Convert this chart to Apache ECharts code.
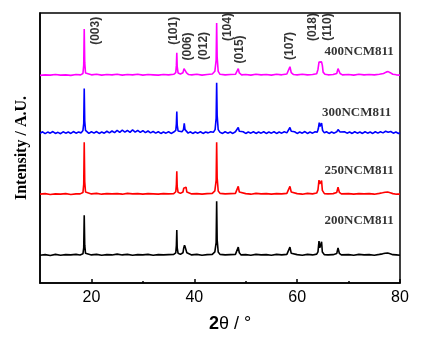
<!DOCTYPE html>
<html>
<head>
<meta charset="utf-8">
<script src="https://cdn.jsdelivr.net/npm/echarts@6/dist/echarts.min.js"></script>
<style>
  html, body { margin: 0; padding: 0; background: #fff; }
  #chart { width: 440px; height: 338px; }
</style>
</head>
<body>
<div id="chart"></div>
<script>
// XRD patterns, [2theta, intensity above own baseline]
const pattern200 = [
  [10, 0.3], [11, 0.5], [12, 0.2], [13, 0.6], [14, 0.3], [15, 0.5], [16, 0.4], [17, 0.6], [17.8, 0.4],
  [18.35, 0.8], [18.5, 3], [18.6, 15.1], [18.7, 4], [18.85, 1], [19.2, 0.5],
  [20, 0.4], [21, 0.6], [22, 0.3], [23, 0.5], [24, 0.4], [25, 0.7], [26, 0.4], [27, 0.6], [28, 0.3], [29, 0.5],
  [30, 0.4], [31, 0.6], [32, 0.3], [33, 0.5], [34, 0.4], [35, 0.5], [36, 0.6],
  [36.4, 1.2], [36.52, 4], [36.6, 9.6], [36.68, 3], [36.85, 1],
  [37.3, 0.6], [37.8, 1.2], [37.95, 3], [38.1, 4], [38.25, 3.2], [38.4, 3.4], [38.55, 1.2], [38.9, 0.5],
  [39.5, 0.4], [40.5, 0.6], [41.5, 0.3], [42.5, 0.5], [43.5, 0.6],
  [44.0, 1.5], [44.25, 5], [44.35, 20.3], [44.45, 6], [44.65, 1.5], [45, 0.6],
  [46, 0.4], [47, 0.5], [48, 0.6], [48.35, 1.2], [48.55, 3.3], [48.75, 1.2], [49.1, 0.4],
  [50, 0.5], [51, 0.3], [52, 0.6], [53, 0.4], [54, 0.5], [55, 0.3], [56, 0.6], [57, 0.4], [58, 0.6],
  [58.35, 1], [58.6, 3.3], [58.85, 1], [59.2, 0.4],
  [60, 0.5], [61, 0.3], [62, 0.6], [63, 0.4], [63.8, 0.7],
  [64.05, 1.5], [64.25, 5.5], [64.4, 3], [64.55, 2.5], [64.75, 5.3], [64.9, 1.5], [65.3, 0.5],
  [66, 0.4], [67, 0.5], [67.7, 0.9], [67.95, 3], [68.2, 1], [68.6, 0.4],
  [70, 0.5], [71, 0.3], [72, 0.6], [73, 0.4], [74, 0.5], [75, 0.3], [76, 0.6],
  [76.6, 0.8], [77.1, 1], [77.6, 1.1], [78.1, 0.8], [78.6, 0.5], [79.3, 0.4], [80, 0.3]
];

const pattern250 = [
  [10, 0.4], [11, 0.6], [12, 0.3], [13, 0.5], [14, 0.4], [15, 0.6], [16, 0.3], [17, 0.5], [17.8, 0.5],
  [18.35, 1], [18.5, 4], [18.6, 19.6], [18.7, 5], [18.85, 1.2], [19.2, 0.6],
  [20, 0.5], [21, 0.7], [22, 0.4], [23, 0.6], [24, 0.5], [25, 0.6], [26, 0.4], [27, 0.7], [28, 0.5], [29, 0.6],
  [30, 0.4], [31, 0.6], [32, 0.5], [33, 0.4], [34, 0.6], [35, 0.5], [36, 0.6],
  [36.4, 1.3], [36.52, 4], [36.6, 8.9], [36.68, 3.2], [36.85, 1.1],
  [37.3, 0.7], [37.8, 1.2], [37.95, 2.6], [38.1, 3.3], [38.25, 2.8], [38.4, 3], [38.55, 1.2], [38.9, 0.5],
  [39.5, 0.5], [40.5, 0.6], [41.5, 0.4], [42.5, 0.6], [43.5, 0.7],
  [44.0, 1.6], [44.25, 5.5], [44.35, 19.6], [44.45, 6.5], [44.65, 1.6], [45, 0.7],
  [46, 0.5], [47, 0.6], [48, 0.7], [48.35, 1.3], [48.55, 3.3], [48.75, 1.2], [49.1, 0.5],
  [50, 0.6], [51, 0.4], [52, 0.7], [53, 0.5], [54, 0.6], [55, 0.4], [56, 0.6], [57, 0.5], [58, 0.7],
  [58.35, 1.2], [58.6, 3.3], [58.85, 1.2], [59.2, 0.5],
  [60, 0.6], [61, 0.4], [62, 0.7], [63, 0.5], [63.8, 0.8],
  [64.05, 2], [64.25, 5.6], [64.4, 4.2], [64.55, 3.6], [64.75, 5.4], [64.9, 1.8], [65.3, 0.6],
  [66, 0.5], [67, 0.6], [67.7, 1], [67.95, 3], [68.2, 1.1], [68.6, 0.5],
  [70, 0.6], [71, 0.4], [72, 0.6], [73, 0.5], [74, 0.6], [75, 0.4], [76, 0.7],
  [76.6, 0.9], [77.1, 1.1], [77.6, 1.2], [78.1, 0.9], [78.6, 0.6], [79.3, 0.4], [80, 0.4]
];

const pattern300 = [
  [10, 0.4], [10.5, 1], [11, 0.3], [11.5, 0.9], [12, 0.5], [12.5, 1.1], [13, 0.4], [13.5, 0.8], [14, 0.3],
  [14.5, 1], [15, 0.5], [15.5, 0.9], [16, 0.4], [16.5, 1.1], [17, 0.5], [17.5, 0.9], [18, 0.6],
  [18.35, 1.5], [18.5, 4], [18.6, 17], [18.7, 5], [18.85, 1.5], [19.2, 0.8],
  [19.5, 0.4], [20, 1], [20.5, 0.5], [21, 1.1], [21.5, 0.4], [22, 0.9], [22.5, 0.5], [23, 1.2], [23.5, 0.6],
  [24, 1.3], [24.5, 0.7], [25, 1.5], [25.5, 0.8], [26, 1.6], [26.5, 0.9], [27, 1.5], [27.5, 0.8], [28, 1.7],
  [28.5, 0.9], [29, 1.5], [29.5, 0.8], [30, 1.4], [30.5, 0.7], [31, 1.3], [31.5, 0.6], [32, 1.1], [32.5, 0.5],
  [33, 1], [33.5, 0.4], [34, 0.9], [34.5, 0.5], [35, 1], [35.5, 0.4], [36, 0.9],
  [36.4, 1.5], [36.52, 4], [36.6, 8.5], [36.68, 3.5], [36.85, 1.3],
  [37.2, 0.6], [37.6, 1], [37.9, 1.8], [38.05, 4.1], [38.2, 1.8], [38.45, 1.2], [38.8, 0.5],
  [39.2, 1], [39.7, 0.4], [40.2, 0.9], [40.7, 0.5], [41.2, 1], [41.7, 0.4], [42.2, 0.9], [42.7, 0.6], [43.2, 1], [43.7, 0.8],
  [44.05, 1.8], [44.25, 6], [44.35, 19.2], [44.45, 7], [44.65, 1.8], [45, 0.8],
  [45.5, 0.4], [46, 1], [46.5, 0.5], [47, 0.9], [47.5, 0.4], [48, 1],
  [48.35, 1.4], [48.55, 2.6], [48.75, 1.2], [49.1, 0.5],
  [49.5, 1], [50, 0.4], [50.5, 0.9], [51, 0.5], [51.5, 1], [52, 0.4], [52.5, 0.9], [53, 0.5], [53.5, 1],
  [54, 0.4], [54.5, 0.9], [55, 0.5], [55.5, 1], [56, 0.4], [56.5, 0.9], [57, 0.5], [57.5, 1], [58, 0.6],
  [58.35, 1.3], [58.6, 2.6], [58.85, 1.2], [59.2, 0.5],
  [59.5, 1], [60, 0.4], [60.5, 0.9], [61, 0.5], [61.5, 1.1], [62, 0.4], [62.5, 0.9], [63, 0.5], [63.5, 1], [63.9, 0.8],
  [64.1, 2], [64.3, 4.4], [64.45, 3], [64.6, 3.6], [64.75, 4.2], [64.95, 1.5], [65.3, 0.6],
  [65.7, 1], [66.2, 0.4], [66.7, 0.9], [67.2, 0.5], [67.7, 1],
  [67.95, 1.8], [68.1, 1.5], [68.35, 0.9],
  [68.7, 0.4], [69.2, 1], [69.7, 0.5], [70.2, 0.9], [70.7, 0.4], [71.2, 1], [71.7, 0.5], [72.2, 0.9], [72.7, 0.4],
  [73.2, 1], [73.7, 0.5], [74.2, 0.9], [74.7, 0.4], [75.2, 1], [75.7, 0.5], [76.2, 1], [76.7, 0.6], [77.2, 1.2],
  [77.7, 0.8], [78.2, 1.1], [78.7, 0.5], [79.2, 0.9], [79.7, 0.4], [80, 0.7]
];

const pattern400 = [
  [10, 0.3], [11, 0.5], [12, 0.4], [13, 0.6], [14, 0.4], [15, 0.5], [16, 0.3], [17, 0.6], [17.9, 0.5],
  [18.35, 1], [18.5, 4], [18.6, 17.5], [18.7, 5], [18.85, 1.2], [19.2, 0.6],
  [20, 0.5], [21, 0.7], [22, 0.4], [23, 0.6], [24, 0.5], [25, 0.7], [26, 0.4], [27, 0.6], [28, 0.5], [29, 0.7],
  [30, 0.4], [31, 0.6], [32, 0.5], [33, 0.4], [34, 0.6], [35, 0.5], [36, 0.7],
  [36.4, 1.3], [36.52, 4], [36.6, 8.7], [36.68, 3.5], [36.85, 1.2],
  [37.3, 0.8], [37.8, 1.3], [38.0, 2.8], [38.15, 3.5], [38.3, 2.9], [38.5, 1.2], [38.9, 0.6],
  [39.5, 0.5], [40.5, 0.7], [41.5, 0.4], [42.5, 0.6], [43.5, 0.8],
  [44.0, 1.8], [44.25, 6], [44.35, 19.7], [44.45, 7], [44.65, 1.8], [45, 0.7],
  [46, 0.5], [47, 0.6], [48, 0.7], [48.35, 1.3], [48.55, 2.8], [48.75, 1.2], [49.2, 0.5],
  [50, 0.6], [51, 0.4], [52, 0.7], [53, 0.5], [54, 0.6], [55, 0.4], [56, 0.7], [57, 0.5], [58, 0.8],
  [58.35, 1.4], [58.6, 3.5], [58.85, 1.3], [59.3, 0.6],
  [60, 0.5], [61, 0.7], [62, 0.5], [63, 0.6], [63.8, 0.9],
  [64.05, 2.5], [64.25, 5.2], [64.4, 5.4], [64.55, 4.5], [64.75, 5.3], [64.9, 4], [65.05, 1.5], [65.4, 0.7],
  [66, 0.5], [67, 0.6], [67.7, 1], [67.95, 2.8], [68.15, 2.5], [68.35, 1], [68.8, 0.5],
  [70, 0.6], [71, 0.4], [72, 0.7], [73, 0.5], [74, 0.6], [75, 0.5], [76, 0.7],
  [76.8, 1], [77.3, 1.5], [77.7, 1.7], [78.1, 1.3], [78.6, 0.7], [79.3, 0.5], [80, 0.4]
];

// samples, bottom to top
const sampleNames = ['200NCM811', '250NCM811', '300NCM811', '400NCM811'];
const samplePatterns = [pattern200, pattern250, pattern300, pattern400];
const sampleOffsets = [10, 32.5, 55, 76.6];
const sampleColors = ['#000000', '#ff0000', '#0000ff', '#ff00ff'];
// where each sample name sits (right end of text)
const sampleLabelX = [78.8, 78.8, 78.3, 78.8];
const sampleLabelY = [23.2, 41.7, 63.1, 85.6];

// reflection labels (centre of the rotated text)
const hklNames = ['(003)', '(101)', '(006)', '(012)', '(104)', '(015)', '(107)', '(018)', '(110)'];
const hklX = [20.9, 35.9, 38.8, 41.9, 46.4, 48.9, 58.6, 63.1, 66.0];
const hklY = [93.4, 93.4, 87.6, 87.8, 94.8, 86.5, 87.8, 94.8, 94.8];

const majorTicks = [20, 40, 60, 80];
const minorTicks = [30, 50, 70];

const chart = echarts.init(document.getElementById('chart'));

const series = [];
for (let i = 0; i < samplePatterns.length; i++) {
  series.push({
    name: sampleNames[i],
    type: 'line',
    symbol: 'none',
    lineStyle: { color: sampleColors[i], width: 1.6 },
    data: samplePatterns[i].map(p => [p[0], p[1] + sampleOffsets[i]]),
    z: 3
  });
}

// sample names
series.push({
  type: 'scatter',
  symbolSize: 0,
  silent: true,
  data: sampleNames.map((n, i) => [sampleLabelX[i], sampleLabelY[i], n]),
  label: {
    show: true,
    position: 'left',
    distance: 0,
    formatter: p => p.data[2],
    fontFamily: 'Liberation Serif',
    fontWeight: 'bold',
    fontSize: 13,
    color: '#000'
  }
});

// hkl labels
series.push({
  type: 'scatter',
  symbolSize: 0,
  silent: true,
  data: hklNames.map((n, i) => [hklX[i], hklY[i], n]),
  label: {
    show: true,
    position: 'inside',
    rotate: 90,
    formatter: p => p.data[2],
    fontFamily: 'Liberation Sans',
    fontWeight: 'bold',
    fontSize: 12,
    color: '#000'
  }
});

const option = {
  animation: false,
  backgroundColor: '#fff',
  grid: {
    left: 40,
    right: 40,
    top: 13,
    bottom: 54,
    show: true,
    borderColor: '#000',
    borderWidth: 1.5
  },
  xAxis: [
    {
      type: 'value',
      min: 10,
      max: 80,
      name: '{b|2}θ / °',
      nameLocation: 'middle',
      nameGap: 32,
      nameTextStyle: {
        fontFamily: 'Liberation Sans',
        fontSize: 18,
        color: '#000',
        padding: [0, 0, 0, 20],
        rich: { b: { fontFamily: 'Liberation Sans', fontSize: 18, fontWeight: 'bold', color: '#000' } }
      },
      axisLine: { lineStyle: { color: '#000', width: 1.5 } },
      axisTick: { inside: true, length: 4, customValues: majorTicks, lineStyle: { color: '#000', width: 1.5 } },
      axisLabel: { customValues: majorTicks, fontFamily: 'Liberation Sans', fontSize: 16, color: '#000', margin: 7 },
      splitLine: { show: false }
    },
    {
      type: 'value',
      min: 10,
      max: 80,
      position: 'bottom',
      axisLine: { show: false },
      axisTick: { inside: true, length: 2, customValues: minorTicks, lineStyle: { color: '#000', width: 1.5 } },
      axisLabel: { show: false },
      splitLine: { show: false }
    }
  ],
  yAxis: {
    type: 'value',
    min: 0,
    max: 100,
    name: 'Intensity / A.U.',
    nameLocation: 'middle',
    nameGap: 10,
    nameTextStyle: { fontFamily: 'Liberation Serif', fontWeight: 'bold', fontSize: 16, color: '#000' },
    axisLine: { show: true, lineStyle: { color: '#000', width: 1.5 } },
    axisTick: { show: false },
    axisLabel: { show: false },
    splitLine: { show: false }
  },
  series: series
};

chart.setOption(option);
</script>
</body>
</html>
